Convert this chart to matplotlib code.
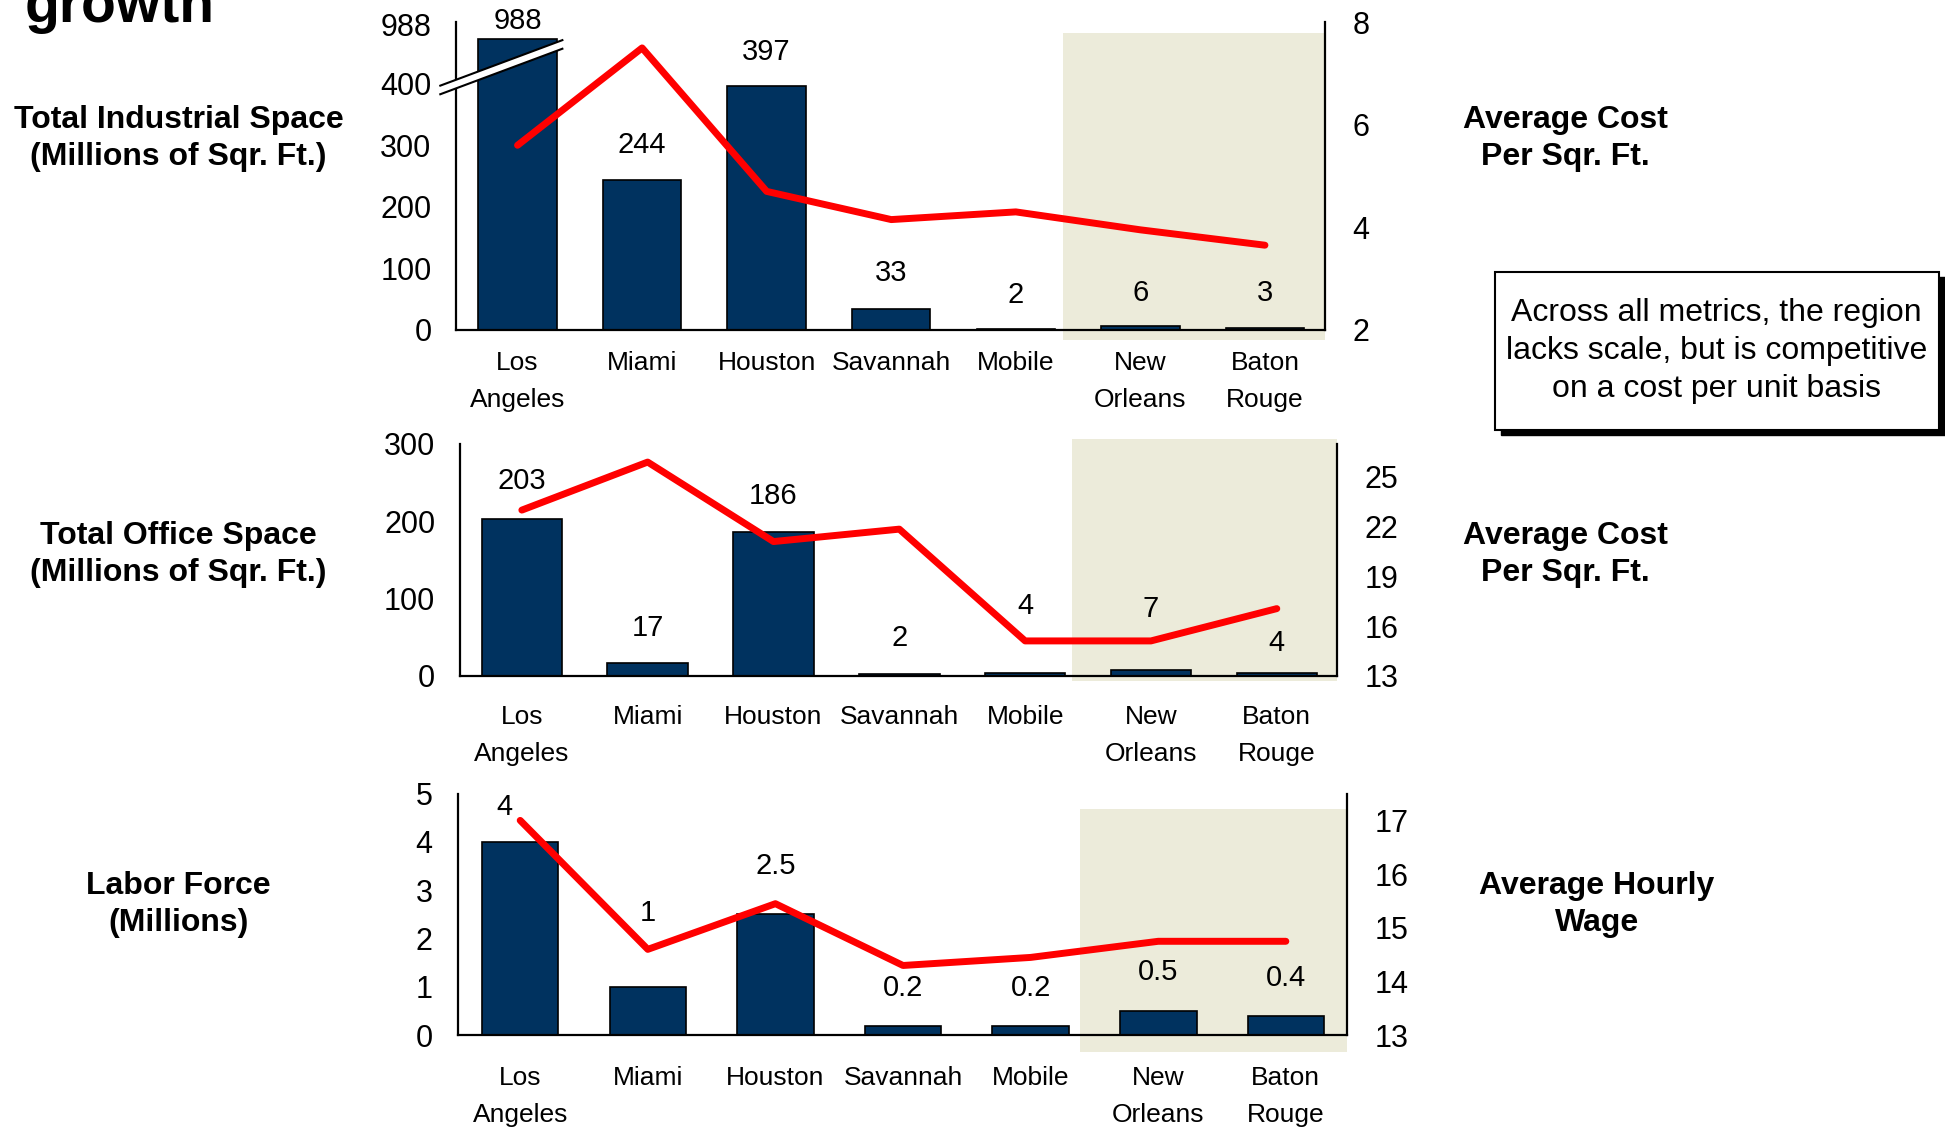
import numpy as np
import matplotlib.pyplot as plt
from matplotlib.patches import Rectangle, Polygon
from matplotlib.lines import Line2D
from matplotlib.transforms import blended_transform_factory

plt.rcParams['font.family'] = ['Liberation Sans', 'DejaVu Sans']

# data
cities = ['Los\nAngeles', 'Miami', 'Houston', 'Savannah', 'Mobile', 'New\nOrleans', 'Baton\nRouge']

industrial_space = [988, 244, 397, 33, 2, 6, 3]
industrial_cost = [5.6, 7.5, 4.7, 4.15, 4.3, 3.95, 3.65]

office_space = [203, 17, 186, 2, 4, 7, 4]
office_cost = [23.0, 25.9, 21.1, 21.85, 15.1, 15.1, 17.05]

labor_force = [4, 1, 2.5, 0.2, 0.2, 0.5, 0.4]
hourly_wage = [17.0, 14.6, 15.45, 14.3, 14.45, 14.75, 14.75]

NAVY = '#00325F'
SHADE = '#ECEBDA'

fig = plt.figure(figsize=(19.45, 11.32), dpi=100)
x = np.arange(len(cities))


def panel(rect, bars, line, ylim_r, yticks_r, offsets, width, shade, xpad):
    ax = fig.add_axes(rect)
    ax.set_xlim(-0.49, 6.48)
    # shaded Louisiana region
    tr = blended_transform_factory(ax.transData, ax.transAxes)
    ax.add_patch(Rectangle((shade[0], shade[1]), 6.48 - shade[0], shade[2] - shade[1],
                           transform=tr, facecolor=SHADE, edgecolor='none',
                           zorder=0, clip_on=False))
    ax.bar(x, bars, width, color=NAVY, edgecolor='black', linewidth=1.2, zorder=2)
    for xi, v, (dx, dy) in zip(x, bars, offsets):
        ax.annotate(f'{v:g}', (xi, v), xytext=(dx, dy), textcoords='offset points',
                    ha='center', va='center', fontsize=21, zorder=6)
    ax.set_xticks(x)
    ax.set_xticklabels(cities, fontsize=19, linespacing=1.7)
    ax.tick_params(axis='x', length=0, pad=xpad)
    ax.tick_params(axis='y', length=0, pad=18, labelsize=22)
    ax.spines['top'].set_visible(False)
    ax.spines['right'].set_visible(False)
    for s in ['left', 'bottom']:
        ax.spines[s].set_linewidth(1.6)

    ax2 = ax.twinx()
    ax2.plot(x, line, color='#FF0000', lw=5, solid_capstyle='round', zorder=3)
    ax2.set_ylim(*ylim_r)
    ax2.set_yticks(yticks_r)
    ax2.tick_params(axis='y', length=0, pad=20, labelsize=22)
    ax2.spines['top'].set_visible(False)
    ax2.spines['left'].set_visible(False)
    ax2.spines['bottom'].set_visible(False)
    ax2.spines['right'].set_linewidth(1.6)
    return ax, ax2


# panel 1: industrial space, broken axis above 400
k = 73 / 588


def fwd(y):
    y = np.asarray(y, float)
    return np.where(y <= 400, y, 400 + (y - 400) * k)


def inv(y):
    y = np.asarray(y, float)
    return np.where(y <= 400, y, 400 + (y - 400) / k)


ax1, ax1r = panel([0.2347, 0.7087, 0.4464, 0.2716], industrial_space, industrial_cost,
                  (2, 8), [2, 4, 6, 8],
                  [(0, 13), (0, 25), (0, 24), (0, 26), (0, 24), (0, 24), (0, 25)],
                  0.63, (4.38, -0.032, 0.964), 15)
ax1.set_yscale('function', functions=(fwd, inv))
top = 400 + 100 / k
ax1.set_ylim(0, top)
# the top tick just marks the broken bar's value at the axis top
ax1.set_yticks([0, 100, 200, 300, 400, 400 + 97 / k])
ax1.set_yticklabels(['0', '100', '200', '300', '400', '988'])

# break marks across the left spine and the LA bar
tb = blended_transform_factory(ax1.transData, ax1.transAxes)
bx = [-0.62, 0.36]
by = [390 / 500, 464 / 500]
gap = 7 / 500
ax1.add_patch(Polygon([(bx[0], by[0] - gap), (bx[1], by[1] - gap),
                       (bx[1], by[1] + gap), (bx[0], by[0] + gap)],
                      closed=True, transform=tb, facecolor='white', edgecolor='none',
                      zorder=4, clip_on=False))
for s in (-gap, gap):
    ax1.add_line(Line2D(bx, [by[0] + s, by[1] + s], transform=tb, color='black',
                        lw=1.5, zorder=5, clip_on=False))

# panel 2: office space
ax2, ax2r = panel([0.2366, 0.4031, 0.4509, 0.2048], office_space, office_cost,
                  (13, 27), [13, 16, 19, 22, 25],
                  [(0, 27), (0, 25), (0, 26), (0, 26), (0, 48), (0, 44), (0, 21)],
                  0.64, (4.37, -0.021, 1.021), 21)
ax2.set_ylim(0, 300)
ax2.set_yticks([0, 100, 200, 300])

# panel 3: labor force
ax3, ax3r = panel([0.2353, 0.0854, 0.4573, 0.2136], labor_force, hourly_wage,
                  (13, 17.5), [13, 14, 15, 16, 17],
                  [(-11, 25), (0, 53), (0, 35), (0, 27), (0, 27), (0, 28), (0, 27)],
                  0.6, (4.39, -0.067, 0.938), 22)
ax3.set_ylim(0, 5)
ax3.set_yticks([0, 1, 2, 3, 4, 5])

# side labels
left_labels = ['Total Industrial Space\n(Millions of Sqr. Ft.)',
               'Total Office Space\n(Millions of Sqr. Ft.)',
               'Labor Force\n(Millions)']
right_labels = ['Average Cost\nPer Sqr. Ft.', 'Average Cost\nPer Sqr. Ft.',
                'Average Hourly\nWage']
label_y = [0.878, 0.510, 0.201]
for lt, rt, yy, rx in zip(left_labels, right_labels, label_y, [0.805, 0.805, 0.821]):
    fig.text(0.0918, yy, lt, ha='center', va='center', fontsize=23,
             fontweight='bold', linespacing=1.3)
    fig.text(rx, yy, rt, ha='center', va='center', fontsize=23,
             fontweight='bold', linespacing=1.3)

# clipped title at the top
fig.text(0.0125, 0.981, 'growth', ha='left', va='baseline', fontsize=41,
         fontweight='bold')

# callout box with shadow
bx0, by0, bw, bh = 0.7685, 0.620, 0.2283, 0.140
fig.add_artist(Rectangle((bx0 + 0.003, by0 - 0.0045), bw, bh, transform=fig.transFigure,
                         facecolor='black', edgecolor='black', zorder=1))
fig.add_artist(Rectangle((bx0, by0), bw, bh, transform=fig.transFigure,
                         facecolor='white', edgecolor='black', lw=1.5, zorder=2))
fig.text(bx0 + bw / 2, by0 + bh / 2,
         'Across all metrics, the region\nlacks scale, but is competitive\non a cost per unit basis',
         ha='center', va='center', fontsize=23, linespacing=1.35, zorder=3)

fig.savefig('out.png', dpi=100)
